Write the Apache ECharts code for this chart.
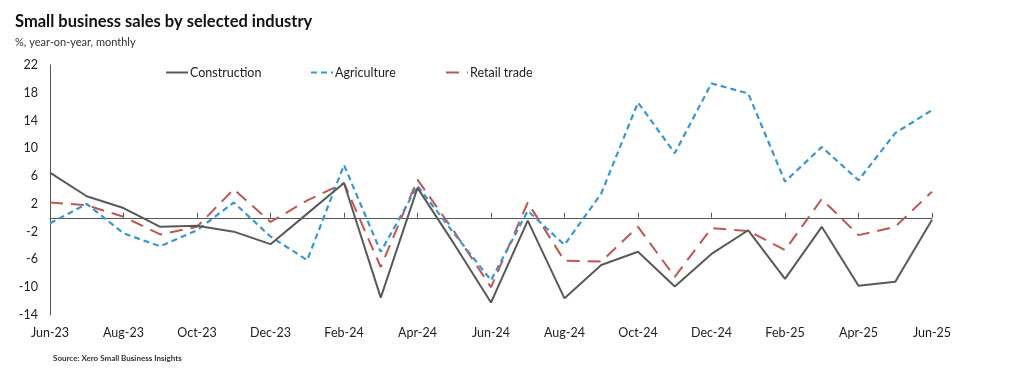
<!DOCTYPE html>
<html><head><meta charset="utf-8">
<script src="https://cdn.jsdelivr.net/npm/echarts@6/dist/echarts.min.js"></script>
<style>html,body{margin:0;padding:0;background:#fff}#c{width:1024px;height:368px}</style>
</head><body><div id="c"></div>
<script>
const categories = ["Jun-23","Jul-23","Aug-23","Sep-23","Oct-23","Nov-23","Dec-23","Jan-24","Feb-24","Mar-24","Apr-24","May-24","Jun-24","Jul-24","Aug-24","Sep-24","Oct-24","Nov-24","Dec-24","Jan-25","Feb-25","Mar-25","Apr-25","May-25","Jun-25"];
const construction = [6.5,3.1,1.4,-1.3,-1.15,-2.0,-3.8,0.6,5.0,-11.5,4.3,-3.8,-12.2,-0.4,-11.6,-6.8,-4.9,-9.9,-5.2,-1.8,-8.8,-1.3,-9.8,-9.2,-0.3];
const agriculture = [-0.8,2.0,-2.25,-4.1,-1.8,2.2,-2.7,-6.1,7.6,-4.9,4.6,-2.3,-9.0,1.0,-3.9,3.5,16.6,9.3,19.35,17.9,5.2,10.2,5.4,12.2,15.5];
const retail = [2.2,1.8,0.15,-2.4,-1.3,4.1,-0.6,2.5,5.0,-7.1,5.5,-2.0,-10.0,2.2,-6.2,-6.3,-1.3,-8.5,-1.5,-1.9,-4.65,2.7,-2.5,-1.3,3.75];
const yTicks = {min:-14, max:22, interval:4};

const FONT = 'Lato, "Open Sans", sans-serif';
const chart = echarts.init(document.getElementById('c'), null, {renderer:'canvas'});
function legendAt(left, name){
  return {left:left, top:61, orient:'horizontal', itemWidth:22, itemHeight:10, itemGap:0,
    itemStyle:{opacity:0, borderWidth:0},
    textStyle:{fontFamily:FONT, fontSize:12.5, color:'#222', padding:[0,0,0,-3]}, data:[name]};
}
chart.setOption({
  animation:false,
  title:[
    {text:'Small business sales by selected industry', left:10, top:8,
     textStyle:{fontFamily:FONT, fontSize:16.5, fontWeight:'bold', color:'#111'}},
    {text:'%, year-on-year, monthly', left:10, top:32,
     textStyle:{fontFamily:FONT, fontSize:11, fontWeight:'normal', color:'#333'}},
    {text:'Source: Xero Small Business Insights', left:48, top:349,
     textStyle:{fontFamily:FONT, fontSize:8, fontWeight:'bold', color:'#333'}}
  ],
  legend:[
    legendAt(160, 'Construction'),
    legendAt(305, 'Agriculture'),
    legendAt(440, 'Retail trade')
  ],
  grid:{left:50, right:92, top:65, bottom:53, containLabel:false},
  xAxis:[
    {type:'category', data:categories, boundaryGap:false,
     axisLine:{onZero:true, lineStyle:{color:'#555', width:1}},
     axisTick:{show:true, inside:true, interval:1, length:5, lineStyle:{color:'#555'}},
     axisLabel:{show:false}},
    {type:'category', data:categories, boundaryGap:false, position:'bottom',
     axisLine:{show:false, onZero:false}, axisTick:{show:false},
     axisLabel:{interval:1, margin:11, fontFamily:FONT, fontSize:12.5, color:'#222'}}
  ],
  yAxis:{type:'value', min:yTicks.min, max:yTicks.max, interval:yTicks.interval,
    axisLine:{show:true, lineStyle:{color:'#555', width:1}},
    axisTick:{show:false}, splitLine:{show:false},
    axisLabel:{margin:12, fontFamily:FONT, fontSize:12.5, color:'#222'}},
  series:[
    {name:'Construction', type:'line', data:construction, symbol:'none', xAxisIndex:0,
     lineStyle:{color:'#595959', width:2}, itemStyle:{color:'#595959'}, z:3},
    {name:'Agriculture', type:'line', data:agriculture, symbol:'none', xAxisIndex:0,
     lineStyle:{color:'#3A96CF', width:2.2, type:[6,4]}, itemStyle:{color:'#3A96CF'}, z:2},
    {name:'Retail trade', type:'line', data:retail, symbol:'none', xAxisIndex:0,
     lineStyle:{color:'#BE5652', width:2, type:[13,8]}, itemStyle:{color:'#BE5652'}, z:1}
  ]
});
</script></body></html>
